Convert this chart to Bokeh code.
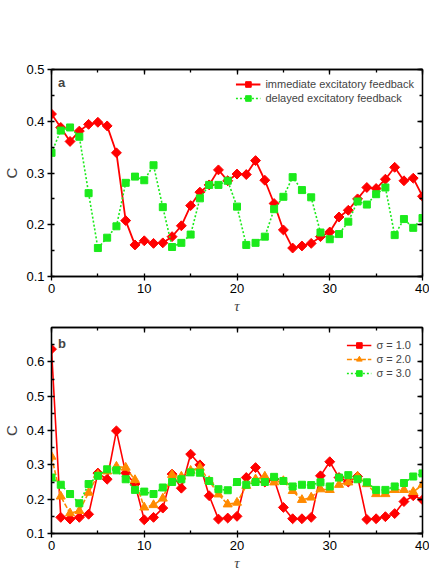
from bokeh.plotting import figure
from bokeh.models import LinearAxis, Range1d, Legend, LegendItem, Label, SingleIntervalTicker
from bokeh.layouts import column
from bokeh.embed import file_html
from bokeh.resources import INLINE
import numpy as np

tau = list(range(41))
immediate = [0.414, 0.388, 0.361, 0.381, 0.394, 0.398, 0.391, 0.339, 0.208, 0.161,
             0.169, 0.164, 0.165, 0.177, 0.198, 0.237, 0.263, 0.277, 0.306, 0.285,
             0.298, 0.297, 0.324, 0.286, 0.241, 0.190, 0.155, 0.159, 0.164, 0.177,
             0.186, 0.215, 0.228, 0.250, 0.272, 0.270, 0.288, 0.311, 0.285, 0.290, 0.255]
delayed = [0.339, 0.382, 0.388, 0.370, 0.261, 0.155, 0.175, 0.197, 0.281, 0.293,
           0.286, 0.315, 0.234, 0.157, 0.165, 0.181, 0.251, 0.277, 0.277, 0.285,
           0.235, 0.161, 0.165, 0.177, 0.230, 0.254, 0.292, 0.267, 0.253, 0.185,
           0.172, 0.182, 0.206, 0.245, 0.239, 0.259, 0.272, 0.180, 0.211, 0.194, 0.213]
sigma1 = [0.637, 0.147, 0.142, 0.147, 0.156, 0.276, 0.258, 0.399, 0.276, 0.244,
          0.140, 0.147, 0.174, 0.273, 0.232, 0.331, 0.300, 0.210, 0.142, 0.145,
          0.150, 0.263, 0.292, 0.250, 0.258, 0.176, 0.143, 0.143, 0.147, 0.268,
          0.309, 0.263, 0.250, 0.266, 0.141, 0.143, 0.149, 0.158, 0.193, 0.210, 0.198]
sigma2 = [0.324, 0.208, 0.159, 0.166, 0.219, 0.271, 0.281, 0.295, 0.292, 0.256,
          0.176, 0.183, 0.202, 0.271, 0.266, 0.283, 0.292, 0.253, 0.214, 0.185,
          0.190, 0.239, 0.258, 0.266, 0.249, 0.253, 0.224, 0.198, 0.205, 0.229,
          0.227, 0.242, 0.249, 0.266, 0.244, 0.215, 0.215, 0.227, 0.227, 0.221, 0.242]
sigma3 = [0.263, 0.242, 0.215, 0.188, 0.244, 0.268, 0.287, 0.284, 0.258, 0.227,
          0.222, 0.215, 0.234, 0.250, 0.258, 0.278, 0.277, 0.253, 0.229, 0.226,
          0.250, 0.242, 0.250, 0.250, 0.265, 0.253, 0.237, 0.242, 0.241, 0.249,
          0.237, 0.263, 0.270, 0.258, 0.249, 0.227, 0.227, 0.237, 0.247, 0.266, 0.275]

labels_a = ["immediate excitatory feedback", "delayed excitatory feedback"]
labels_b = ["σ = 1.0", "σ = 2.0", "σ = 3.0"]

RED = "#FF0000"
GREEN = "#1BEA1B"
ORANGE = "#FF8A00"
FONT = "Liberation Sans"


def make_fig(height, ymax, top_border, bottom_border):
    p = figure(width=429, height=height, output_backend="svg", toolbar_location=None,
               x_range=Range1d(0, 40), y_range=Range1d(0.1, ymax),
               min_border_left=42, min_border_right=7,
               min_border_top=top_border, min_border_bottom=bottom_border)
    p.xgrid.visible = False
    p.ygrid.visible = False
    p.outline_line_color = "black"
    p.outline_line_width = 1.3
    p.xaxis.ticker = SingleIntervalTicker(interval=10, num_minor_ticks=2)
    p.yaxis.ticker = SingleIntervalTicker(interval=0.1, num_minor_ticks=2)
    for ax in (p.xaxis[0], p.yaxis[0]):
        ax.axis_line_width = 1.3
        ax.major_tick_line_width = 1.3
        ax.minor_tick_line_width = 1.3
        ax.major_tick_out = 4
        ax.major_tick_in = 0
        ax.minor_tick_out = 0
        ax.minor_tick_in = 3
        ax.major_label_text_font = FONT
        ax.major_label_text_font_size = "13px"
        ax.major_label_text_color = "black"
        ax.major_label_standoff = 3
    p.xaxis.axis_label = "τ"
    p.xaxis.axis_label_text_font = "Liberation Serif"
    p.xaxis.axis_label_text_font_style = "italic"
    p.xaxis.axis_label_text_font_size = "15px"
    p.xaxis.axis_label_standoff = 2
    p.yaxis.axis_label = "C"
    p.yaxis.axis_label_text_font = FONT
    p.yaxis.axis_label_text_font_style = "normal"
    p.yaxis.axis_label_text_font_size = "15px"
    p.yaxis.axis_label_standoff = 3

    top = LinearAxis(ticker=SingleIntervalTicker(interval=10, num_minor_ticks=2))
    right = LinearAxis(ticker=SingleIntervalTicker(interval=0.1, num_minor_ticks=2))
    for ax in (top, right):
        ax.axis_line_width = 1.3
        ax.major_tick_line_width = 1.3
        ax.minor_tick_line_width = 1.3
        ax.major_tick_out = 0
        ax.major_tick_in = 5
        ax.minor_tick_out = 0
        ax.minor_tick_in = 3
        ax.major_label_text_font_size = "1px"
        ax.major_label_text_color = None
        ax.major_label_standoff = 0
    p.add_layout(top, "above")
    p.add_layout(right, "right")
    return p


def style_legend(leg, margin):
    leg.location = "top_right"
    leg.glyph_width = 25
    leg.glyph_height = 14
    leg.label_height = 14
    leg.spacing = 0
    leg.padding = 0
    leg.margin = margin
    leg.label_standoff = 5
    leg.label_text_font = FONT
    leg.label_text_font_size = "11px"
    leg.border_line_color = None
    leg.background_fill_alpha = 0


# Panel a
p1 = make_fig(316, 0.5, 69, 40)
l1 = p1.line(tau, immediate, line_color=RED, line_width=1.8)
s1 = p1.scatter(tau, immediate, marker="square", angle=np.pi / 4, size=7,
                fill_color=RED, line_color=RED)
l2 = p1.line(tau, delayed, line_color=GREEN, line_width=1.6, line_dash="2 2")
s2 = p1.scatter(tau, delayed, marker="square", size=7, fill_color=GREEN, line_color=GREEN)
leg1 = Legend(items=[LegendItem(label=labels_a[0], renderers=[l1, s1]),
                     LegendItem(label=labels_a[1], renderers=[l2, s2])])
style_legend(leg1, 8)
p1.add_layout(leg1, "center")
p1.add_layout(Label(x=0.7, y=0.475, text="a", text_font=FONT, text_font_style="bold",
                    text_font_size="13px", text_baseline="middle"))

# Panel b
p2 = make_fig(257, 0.7, 11, 40)
m1 = p2.line(tau, sigma1, line_color=RED, line_width=1.6)
n1 = p2.scatter(tau, sigma1, marker="square", angle=np.pi / 4, size=7,
                fill_color=RED, line_color=RED)
m2 = p2.line(tau, sigma2, line_color=ORANGE, line_width=1.6, line_dash="5 2")
n2 = p2.scatter(tau, sigma2, marker="triangle", size=9, fill_color=ORANGE, line_color=ORANGE)
m3 = p2.line(tau, sigma3, line_color=GREEN, line_width=1.6, line_dash="2 2")
n3 = p2.scatter(tau, sigma3, marker="square", size=7, fill_color=GREEN, line_color=GREEN)
leg2 = Legend(items=[LegendItem(label=labels_b[0], renderers=[m1, n1]),
                     LegendItem(label=labels_b[1], renderers=[m2, n2]),
                     LegendItem(label=labels_b[2], renderers=[m3, n3])])
style_legend(leg2, 11)
p2.add_layout(leg2, "center")
p2.add_layout(Label(x=0.7, y=0.652, text="b", text_font=FONT, text_font_style="bold",
                    text_font_size="13px", text_baseline="middle"))

layout = column(p1, p2, spacing=0)
open("out.html", "w").write(file_html(layout, INLINE))
